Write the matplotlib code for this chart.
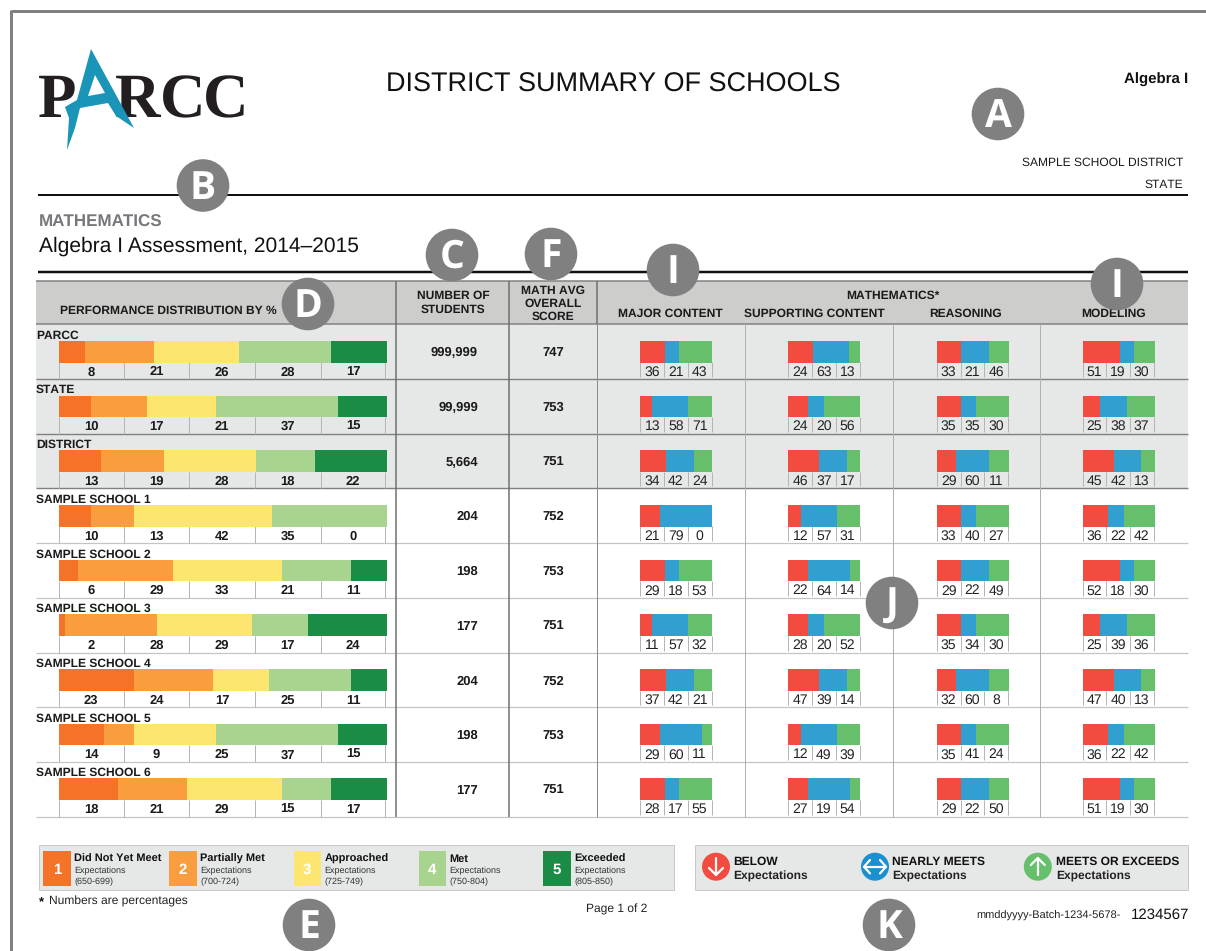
import matplotlib
matplotlib.use('Agg')
from matplotlib import pyplot as plt
from matplotlib.patches import Rectangle, Circle, Polygon

W, H = 1206, 951

rows = ['PARCC', 'STATE', 'DISTRICT', 'SAMPLE SCHOOL 1', 'SAMPLE SCHOOL 2',
	'SAMPLE SCHOOL 3', 'SAMPLE SCHOOL 4', 'SAMPLE SCHOOL 5', 'SAMPLE SCHOOL 6']
students = ['999,999', '99,999', '5,664', '204', '198', '177', '204', '198', '177']
scores = [747, 753, 751, 752, 753, 751, 752, 753, 751]

# performance levels, one list per level
level1 = [8, 10, 13, 10, 6, 2, 23, 14, 18]
level2 = [21, 17, 19, 13, 29, 28, 24, 9, 21]
level3 = [26, 21, 28, 42, 33, 29, 17, 25, 29]
level4 = [28, 37, 18, 35, 21, 17, 25, 37, 15]
level5 = [17, 15, 22, 0, 11, 24, 11, 15, 17]

# printed numbers under the small bars
major_labels = [[36, 21, 43], [13, 58, 71], [34, 42, 24], [21, 79, 0], [29, 18, 53],
	[11, 57, 32], [37, 42, 21], [29, 60, 11], [28, 17, 55]]
supporting_labels = [[24, 63, 13], [24, 20, 56], [46, 37, 17], [12, 57, 31], [22, 64, 14],
	[28, 20, 52], [47, 39, 14], [12, 49, 39], [27, 19, 54]]
reasoning_labels = [[33, 21, 46], [35, 35, 30], [29, 60, 11], [33, 40, 27], [29, 22, 49],
	[35, 34, 30], [32, 60, 8], [35, 41, 24], [29, 22, 50]]
modeling_labels = [[51, 19, 30], [25, 38, 37], [45, 42, 13], [36, 22, 42], [52, 18, 30],
	[25, 39, 36], [47, 40, 13], [36, 22, 42], [51, 19, 30]]

# the drawn lengths do not follow the printed numbers, so they are read separately
major_bars = [[34, 19, 47], [16, 50, 34], [36, 38, 26], [27, 73, 0], [34, 19, 47],
	[16, 50, 34], [36, 38, 26], [27, 58, 15], [34, 19, 47]]
supporting_bars = [[34, 50, 16], [27, 23, 50], [43, 38, 19], [17, 50, 33], [27, 58, 15],
	[27, 23, 50], [43, 38, 19], [17, 50, 33], [27, 58, 15]]
reasoning_bars = [[34, 39, 27], [34, 20, 46], [27, 46, 27], [34, 20, 46], [34, 39, 27],
	[34, 20, 46], [27, 46, 27], [34, 20, 46], [34, 39, 27]]
modeling_bars = [[52, 19, 29], [24, 38, 38], [43, 37, 19], [35, 23, 42], [52, 19, 29],
	[24, 38, 38], [43, 37, 19], [35, 23, 42], [52, 19, 29]]

level_names = ['Did Not Yet Meet', 'Partially Met', 'Approached', 'Met', 'Exceeded']
level_ranges = ['(650-699)', '(700-724)', '(725-749)', '(750-804)', '(805-850)']
level_colors = ['#F47328', '#F99D3E', '#FDE66F', '#A9D48F', '#1A8C45']
mini_colors = ['#F24C40', '#329FD1', '#65BF6B']

plt.rcParams['font.family'] = ['Liberation Sans', 'DejaVu Sans']
plt.rcParams['text.hinting'] = 'no_hinting'
plt.rcParams['text.hinting_factor'] = 1

fig = plt.figure(figsize=(W / 100, H / 100), dpi=100, facecolor='white')
ax = fig.add_axes([0, 0, 1, 1], zorder=0)
ax.set_xlim(0, W)
ax.set_ylim(H, 0)
ax.axis('off')


# y is the middle of the capitals, so digits in a row keep one baseline
def T(x, y, s, size=9, weight='normal', ha='left', color='#1a1a1a', **kw):
	base = y + 0.358 * size / 0.72
	return ax.text(x, base, s, fontsize=size, fontweight=weight, ha=ha, va='baseline', color=color, **kw)


def L(x0, y0, x1, y1, c='#808080', px=1.0, z=2):
	ax.plot([x0, x1], [y0, y1], color=c, lw=px * 0.72, solid_capstyle='butt', zorder=z)


def R(x0, y0, x1, y1, fc, ec='none', px=0, z=1):
	ax.add_patch(Rectangle((x0, y0), x1 - x0, y1 - y0, fc=fc, ec=ec, lw=px * 0.72, zorder=z))


def hbar(x0, y0, x1, y1, values, colors):
	a = fig.add_axes([x0 / W, 1 - y1 / H, (x1 - x0) / W, (y1 - y0) / H], zorder=1)
	left = 0
	for v, c in zip(values, colors):
		a.barh(0, v, left=left, height=1, color=c)
		left += v
	a.set_xlim(0, sum(values))
	a.set_ylim(-0.5, 0.5)
	a.axis('off')


# page frame
L(11, 11, W, 11, px=3)
L(11, 10, 11, H, px=3)

# logo
for x, ch in [(38, 'P'), (115, 'R'), (160, 'C'), (203, 'C')]:
	ax.text(x, 117, ch, fontsize=45, family='Liberation Serif', fontweight='bold',
		color='#231F20', ha='left', va='baseline', zorder=3)
ax.add_patch(Polygon([(91, 49), (134, 128), (116, 116), (108, 103), (80, 108), (75, 128), (67, 150),
	(69, 118), (65, 107), (77, 100)], fc='#1A95B8', ec='none', zorder=4))
ax.add_patch(Polygon([(95, 75), (88, 96), (105, 93)], fc='white', ec='none', zorder=4))

T(613.5, 82, 'DISTRICT SUMMARY OF SCHOOLS', 19.7, ha='center', color='#111111')
T(1188, 78.5, 'Algebra I', 11.1, 'bold', ha='right', color='#111111')
T(1183, 161.5, 'SAMPLE SCHOOL DISTRICT', 8.8, ha='right')
T(1183, 183.5, 'STATE', 8.8, ha='right')
L(38, 195, 1188, 195, '#111111', 2)
T(39, 221, 'MATHEMATICS', 12, 'bold', color='#77787B')
T(39, 244, 'Algebra I Assessment, 2014\u20132015', 15.2, color='#111111')
L(38, 271.5, 1188, 271.5, '#111111', 2.5)

# table header and shaded rows
top, rh = 324.3, 54.7
bottom = top + rh * len(rows)
R(36, 281, 1188, top, '#CDCDCB')
R(36, top, 1188, top + rh * 3, '#E6E7E7')
L(36, 281, 1188, 281, '#808080', 1.5)
L(36, top, 1188, top, '#808080', 1.5)
T(60, 309.5, 'PERFORMANCE DISTRIBUTION BY %', 8.6, 'bold')
T(453, 295, 'NUMBER OF', 8.6, 'bold', ha='center')
T(453, 309, 'STUDENTS', 8.6, 'bold', ha='center')
T(553, 290, 'MATH AVG', 8.6, 'bold', ha='center')
T(553, 303, 'OVERALL', 8.6, 'bold', ha='center')
T(553, 316, 'SCORE', 8.6, 'bold', ha='center')
T(893, 295, 'MATHEMATICS*', 8.6, 'bold', ha='center')
for x, s in [(670, 'MAJOR CONTENT'), (814, 'SUPPORTING CONTENT'), (966, 'REASONING'), (1114, 'MODELING')]:
	T(x, 313, s, 8.6, 'bold', ha='center')

main_ticks = [58.5, 123.7, 189.3, 255, 320.5, 385.4]
mini_lefts = [640.4, 788.4, 936.8, 1082.5]
mini_cell = 23.7
mini_labels = [major_labels, supporting_labels, reasoning_labels, modeling_labels]
mini_bars = [major_bars, supporting_bars, reasoning_bars, modeling_bars]

for i, name in enumerate(rows):
	y0 = top + i * rh
	y1 = y0 + rh
	L(36, y1, 1188, y1, '#808080' if i < 3 else '#C4C4C4', 1.4 if i < 3 else 1.2)
	T(36, y0 + 10, name, 8.6, 'bold')
	hbar(58.5, y0 + 16.5, 387, y0 + 38.2,
		[level1[i], level2[i], level3[i], level4[i], level5[i]], level_colors)
	vals = [level1[i], level2[i], level3[i], level4[i], level5[i]]
	for k, x in enumerate(main_ticks):
		L(x, y0 + 38, x, y1, '#B5B5B5', 1)
		if k < 5:
			T((x + main_ticks[k + 1]) / 2, y0 + 46.4, str(vals[k]), 9.6, 'bold', ha='center')
	T(478, y0 + 27.2, students[i], 9.6, 'bold', ha='right')
	T(553, y0 + 27.2, str(scores[i]), 9.6, 'bold', ha='center')
	for j in range(4):
		x = mini_lefts[j]
		hbar(x, y0 + 16.5, x + 72, y0 + 38.2, mini_bars[j][i], mini_colors)
		for k in range(4):
			L(x + k * mini_cell, y0 + 38, x + k * mini_cell, y1 - 2, '#B5B5B5', 1)
		for k in range(3):
			T(x + (k + 0.5) * mini_cell, y0 + 46.4, str(mini_labels[j][i][k]), 9.8, ha='center', color='#222222')

# column rules
L(396, 281, 396, bottom, '#6E6E6E', 1.5, 3)
L(508.5, 281, 508.5, bottom, '#6E6E6E', 1.5, 3)
L(596.7, top, 596.7, bottom, '#8C8C8C', 1, 3)
L(596.7, 281, 596.7, top, '#6E6E6E', 1.5, 3)
for x in [744.7, 892.8, 1040.4]:
	L(x, top, x, bottom, '#B0B0B0', 1, 2)

# performance level key
R(39, 845, 674, 890, '#E6E7E7', '#C8C8C8', 1)
swatch_x = [43.4, 169, 293.6, 418.5, 543]
for n, x in enumerate(swatch_x):
	R(x, 851, x + 27.5, 886, level_colors[n], z=2)
	T(x + 13.7, 868.5, str(n + 1), 11, 'bold', ha='center', color='white', zorder=3)
	T(x + 31, 857.5, level_names[n], 8.2, 'bold', color='#111111', zorder=3)
	T(x + 31, 870, 'Expectations', 6.2, color='#333333', zorder=3)
	T(x + 31, 881, level_ranges[n], 6.2, color='#333333', zorder=3)
T(39, 902, '*', 9, 'bold', color='#111111')
T(49, 900.5, 'Numbers are percentages', 8.3, color='#222222')
T(586, 908, 'Page 1 of 2', 8.6, color='#222222')

# small bar key
R(694.5, 845, 1188, 890, '#E6E7E7', '#C8C8C8', 1)
for cx, fc in [(716, '#F24C40'), (875, '#1B8FD0'), (1037.8, '#65BF6B')]:
	ax.add_patch(Circle((cx, 866.7), 14, fc=fc, ec='none', zorder=3))
arrow = dict(color='white', lw=1.6, solid_capstyle='round', zorder=4)
ax.plot([716, 716], [858, 875], **arrow)
ax.plot([709, 716, 723], [868, 875, 868], **arrow)
ax.plot([864, 886], [866.7, 866.7], **arrow)
ax.plot([870, 864, 870], [860, 866.7, 873.4], **arrow)
ax.plot([880, 886, 880], [860, 866.7, 873.4], **arrow)
ax.plot([1037.8, 1037.8], [858, 875], **arrow)
ax.plot([1030.8, 1037.8, 1044.8], [865, 858, 865], **arrow)
for x, s in [(733.7, 'BELOW'), (892, 'NEARLY MEETS'), (1056.5, 'MEETS OR EXCEEDS')]:
	T(x, 861, s, 8.7, 'bold', color='#111111', zorder=3)
	T(x, 875.5, 'Expectations', 8.7, 'bold', color='#222222', zorder=3)

T(976, 914.5, 'mmddyyyy-Batch-1234-5678-', 8.2, color='#222222')
T(1189, 913, '1234567', 11, ha='right', color='#111111')

# lettered callouts
badges = [('A', 998, 114), ('B', 203, 185.5), ('C', 452, 255), ('F', 551, 254), ('I', 673, 270),
	('I', 1117, 284), ('D', 308, 304), ('J', 892, 603), ('E', 309, 925), ('K', 889, 925)]
for s, x, y in badges:
	ax.add_patch(Circle((x, y), 26.3, fc='#808080', ec='none', zorder=5))
	ax.text(x, y + 3, s, fontsize=28, fontweight='bold', family='Open Sans', color='white',
		ha='center', va='center', zorder=6)

plt.savefig('out.png', dpi=100)
